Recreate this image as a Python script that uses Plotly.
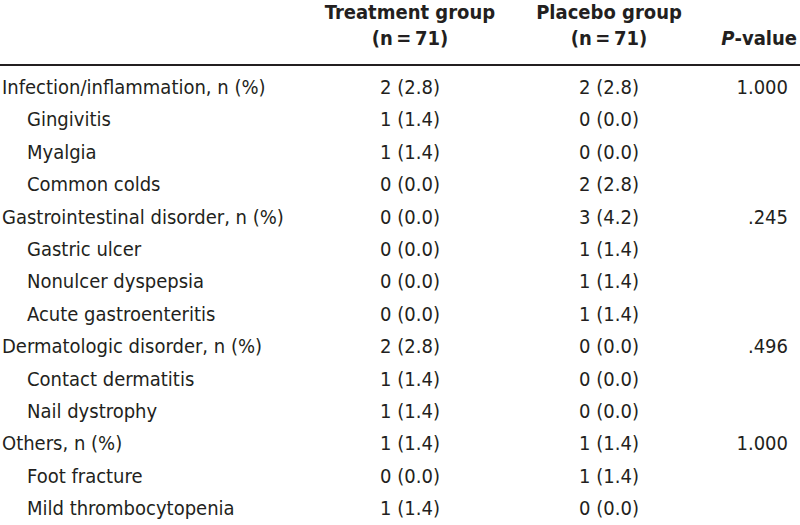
import plotly.graph_objects as go

# ---- data ----
row_labels = [
    "Infection/inflammation, n (%)", "Gingivitis", "Myalgia", "Common colds",
    "Gastrointestinal disorder, n (%)", "Gastric ulcer", "Nonulcer dyspepsia", "Acute gastroenteritis",
    "Dermatologic disorder, n (%)", "Contact dermatitis", "Nail dystrophy",
    "Others, n (%)", "Foot fracture", "Mild thrombocytopenia",
]
is_subitem = [False, True, True, True, False, True, True, True, False, True, True, False, True, True]
treatment = ["2 (2.8)", "1 (1.4)", "1 (1.4)", "0 (0.0)", "0 (0.0)", "0 (0.0)", "0 (0.0)", "0 (0.0)",
             "2 (2.8)", "1 (1.4)", "1 (1.4)", "1 (1.4)", "0 (0.0)", "1 (1.4)"]
placebo = ["2 (2.8)", "0 (0.0)", "0 (0.0)", "2 (2.8)", "3 (4.2)", "1 (1.4)", "1 (1.4)", "1 (1.4)",
           "0 (0.0)", "0 (0.0)", "0 (0.0)", "1 (1.4)", "1 (1.4)", "0 (0.0)"]
p_values = ["1.000", "", "", "", ".245", "", "", "", ".496", "", "", "1.000", "", ""]
header_line1 = ["Treatment group", "Placebo group", ""]
header_line2 = ["(n\u2009=\u200971)", "(n\u2009=\u200971)", "<i>P</i>-value"]

# ---- layout constants ----
FONT = "DejaVu Sans Condensed, Liberation Sans Narrow, Arial Narrow, sans-serif"
COLOR = "#231f20"
FS = 20
X_LABEL, X_INDENT, X_TREAT, X_PLAC, X_P = 2, 27, 410, 609, 788
rows = list(range(len(row_labels)))

fig = go.Figure()

def text_trace(xs, ys, texts, pos):
    fig.add_trace(go.Scatter(
        x=xs, y=ys, text=texts, mode="text", textposition=pos,
        textfont=dict(family=FONT, size=FS, color=COLOR), hoverinfo="skip"))

# body
text_trace([X_INDENT if s else X_LABEL for s in is_subitem], rows, row_labels, "middle right")
text_trace([X_TREAT] * len(rows), rows, treatment, "middle center")
text_trace([X_PLAC] * len(rows), rows, placebo, "middle center")
text_trace([X_P] * len(rows), rows, p_values, "middle left")

# header
HY1, HY2 = -2.3, -1.5
text_trace([X_TREAT, X_PLAC], [HY1, HY1], [f"<b>{t}</b>" for t in header_line1[:2]], "middle center")
text_trace([X_TREAT, X_PLAC], [HY2, HY2], [f"<b>{t}</b>" for t in header_line2[:2]], "middle center")
text_trace([X_P + 9], [HY2], [f"<b>{header_line2[2]}</b>"], "middle left")

# header rule
fig.add_shape(type="line", x0=0, x1=800, y0=-0.74, y1=-0.74, xref="x", yref="y",
              line=dict(color=COLOR, width=2))

fig.update_layout(
    width=800, height=525, margin=dict(l=0, r=0, t=0, b=0),
    paper_bgcolor="white", plot_bgcolor="white", showlegend=False,
    xaxis=dict(range=[0, 800], visible=False, fixedrange=True),
    yaxis=dict(range=[13.457, -2.747], visible=False, fixedrange=True),
)

fig.write_html("out.html", config={"displayModeBar": False},
               post_script="document.body.style.margin='0';")
